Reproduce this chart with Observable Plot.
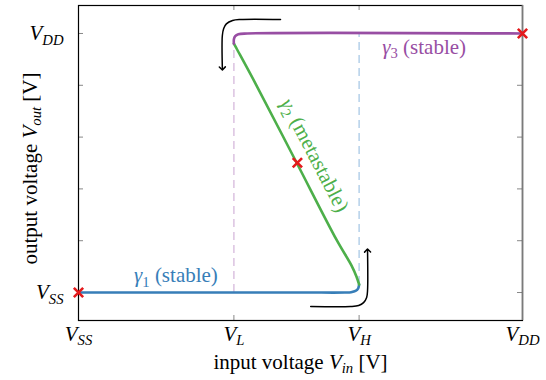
<!DOCTYPE html>
<html><head><meta charset="utf-8">
<script src="https://cdn.jsdelivr.net/npm/d3@7"></script>
<script src="https://cdn.jsdelivr.net/npm/@observablehq/plot@0.6"></script>
<style>body{margin:0;background:#fff}</style>
</head><body><div id="chart"></div>
<script>
// Normalised voltages (VSS = 0, VDD = 1)
const VSS = 0, VL = 0.35, VH = 0.632, VDD = 1;
const xTicks = [VSS, VL, VH, VDD];
const xTickLabels = ["$V_{SS}$", "$V_{L}$", "$V_{H}$", "$V_{DD}$"];
const yTicks = [0, 0.2, 0.4, 0.6, 0.8, 1];
const yLabelTicks = [0, 1];
const yTickLabels = ["$V_{SS}$", "$V_{DD}$"];
const xAxisLabel = "input voltage $V_{in}$ [V]";
const yAxisLabel = "output voltage $V_{out}$ [V]";

// Branches of the transfer curve [Vin, Vout]
const gamma1 = [[0, 0], [0.5, 0], [0.6, 0], [0.614, 0.001], [0.624, 0.006], [0.63, 0.016], [0.632, 0.031]];
const gamma2 = [[0.632, 0.031], [0.626, 0.062], [0.615, 0.104], [0.582, 0.201], [0.491, 0.502], [0.401, 0.799], [0.356, 0.942], [0.35, 0.961]];
const gamma3 = [[0.35, 0.961], [0.35, 0.978], [0.353, 0.99], [0.36, 0.997], [0.38, 1], [1, 1]];

// Equilibrium points
const equilibria = [[0, 0], [0.493, 0.501], [1, 1]];

// Dashed guide lines [x, y1, y2]
const guideL = [[VL, 0, 0.961]];
const guideH = [[VH, 0.031, 1]];

// Hysteresis arrows
const arrowDown = [[0.455, 1.054], [0.365, 1.054], [0.347, 1.05], [0.333, 1.037], [0.327, 1.019], [0.324, 0.992], [0.324, 0.865]];
const arrowUp = [[0.523, -0.054], [0.613, -0.054], [0.631, -0.05], [0.642, -0.039], [0.649, -0.019], [0.651, 0.008], [0.651, 0.162]];

// Curve labels
const labelTexts = ["$γ_{1}$ (stable)", "$γ_{2}$ (metastable)", "$γ_{3}$ (stable)"];
const labelX = [0.125, 0.532, 0.684];
const labelY = [0.039, 0.53, 0.922];

const blue = "#377eb8", green = "#4daf4a", purple = "#984ea3", red = "#e41a1c";
const innerH = 315, innerW = 444, tickLen = 5, tickColor = "#888";

const plot = Plot.plot({
  width: 546, height: 380,
  marginLeft: 78, marginRight: 24, marginTop: 5, marginBottom: 60,
  x: {domain: [0, 1], axis: null},
  y: {domain: [-0.108, 1.108], axis: null},
  style: {fontFamily: "'Liberation Serif', 'Times New Roman', serif", fontSize: "21px", background: "white", color: "black"},
  marks: [
    Plot.ruleX(guideL, {x: d => d[0], y1: d => d[1], y2: d => d[2], stroke: "#d6b9dc", strokeWidth: 1.3, strokeDasharray: "8,5"}),
    Plot.ruleX(guideH, {x: d => d[0], y1: d => d[1], y2: d => d[2], stroke: "#a9c9e6", strokeWidth: 1.3, strokeDasharray: "8,5"}),
    Plot.tickX(xTicks, {x: d => d, insetTop: innerH - tickLen, stroke: tickColor}),
    Plot.tickX(xTicks, {x: d => d, insetBottom: innerH - tickLen, stroke: tickColor}),
    Plot.tickY(yTicks, {y: d => d, insetRight: innerW - tickLen, stroke: tickColor}),
    Plot.tickY(yTicks, {y: d => d, insetLeft: innerW - tickLen, stroke: tickColor}),
    Plot.frame({stroke: "black", strokeWidth: 1.2}),
    Plot.ruleX([VDD], {stroke: "#7a7a7a", strokeWidth: 1.6}),
    Plot.line(gamma1, {x: d => d[0], y: d => d[1], stroke: blue, strokeWidth: 2.6, curve: "catmull-rom"}),
    Plot.line(gamma2, {x: d => d[0], y: d => d[1], stroke: green, strokeWidth: 2.6, curve: "catmull-rom"}),
    Plot.line(gamma3, {x: d => d[0], y: d => d[1], stroke: purple, strokeWidth: 2.6, curve: "catmull-rom"}),
    Plot.dot(equilibria, {x: d => d[0], y: d => d[1], symbol: "times", r: 4.3, stroke: red, strokeWidth: 2.6}),
    Plot.line(arrowDown, {x: d => d[0], y: d => d[1], stroke: "black", strokeWidth: 1.5, curve: "catmull-rom", markerEnd: "arrow"}),
    Plot.line(arrowUp, {x: d => d[0], y: d => d[1], stroke: "black", strokeWidth: 1.5, curve: "catmull-rom", markerEnd: "arrow"}),
    Plot.text([0], {x: labelX[0], y: labelY[0], text: () => labelTexts[0], fill: blue, textAnchor: "start", lineAnchor: "bottom"}),
    Plot.text([0], {x: labelX[1], y: labelY[1], text: () => labelTexts[1], fill: green, rotate: 62.6, textAnchor: "middle", lineAnchor: "middle"}),
    Plot.text([0], {x: labelX[2], y: labelY[2], text: () => labelTexts[2], fill: purple, textAnchor: "start", lineAnchor: "bottom"}),
    Plot.text(xTicks, {x: d => d, frameAnchor: "bottom", dy: 13.5, lineAnchor: "middle", textAnchor: "middle", text: (d, i) => xTickLabels[i], fill: "black"}),
    Plot.text(yLabelTicks, {y: d => d, frameAnchor: "left", dx: -15, textAnchor: "end", lineAnchor: "middle", text: (d, i) => yTickLabels[i], fill: "black"}),
    Plot.text([xAxisLabel], {frameAnchor: "bottom", dy: 41.5, lineAnchor: "middle", textAnchor: "middle", text: d => d, fill: "black"}),
    Plot.text([yAxisLabel], {frameAnchor: "left", dx: -48.5, dy: 5.5, rotate: -90, lineAnchor: "middle", textAnchor: "middle", text: d => d, fill: "black"})
  ]
});

// Render $...$ math: italic letters, _{...} subscripts
function setMath(el, str) {
  const ns = "http://www.w3.org/2000/svg";
  el.textContent = "";
  let back = 0;
  const add = (t, italic, sub) => {
    if (!t) return;
    const ts = document.createElementNS(ns, "tspan");
    ts.textContent = t;
    if (italic) ts.setAttribute("font-style", "italic");
    if (sub) { ts.setAttribute("font-size", "0.7em"); ts.setAttribute("dy", "0.3em"); back = 0.21; }
    else { if (back) ts.setAttribute("dy", (-back) + "em"); back = 0; }
    el.appendChild(ts);
  };
  str.split("$").forEach((p, i) => {
    if (i % 2 === 0) { add(p, false, false); return; }
    const re = /_\{([^}]*)\}|([^_]+)/g; let m;
    while ((m = re.exec(p))) {
      if (m[1] !== undefined) add(m[1], /[A-Za-z]/.test(m[1]), true);
      else add(m[2], /[A-Za-zα-ω]/.test(m[2]), false);
    }
  });
}
d3.select(plot).selectAll("text").each(function () {
  const s = this.textContent;
  if (s.includes("$")) setMath(this, s);
});
document.getElementById("chart").appendChild(plot);
</script>
</body></html>
